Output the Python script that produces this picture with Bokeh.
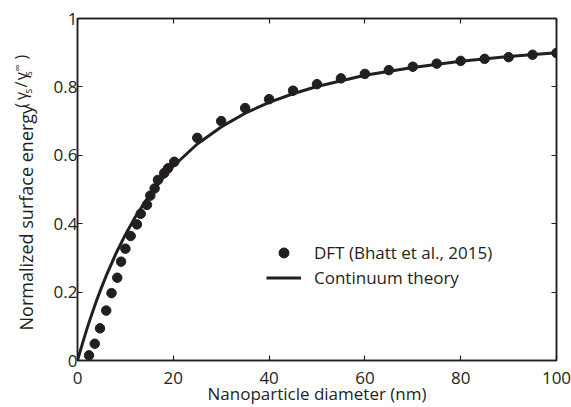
import numpy as np
from bokeh.plotting import figure
from bokeh.layouts import row
from bokeh.models import Range1d, LinearAxis, FixedTicker, Label, Legend, LegendItem
from bokeh.embed import file_html
from bokeh.resources import INLINE

# ---- data ----
dft_x = [2.4, 3.6, 4.7, 6.0, 7.1, 8.3, 9.1, 10.0, 11.1, 12.4, 13.2, 14.5, 15.2, 16.1,
         16.8, 18.1, 18.9, 20.2, 25, 30, 35, 40, 45, 50, 55, 60, 65, 70, 75, 80, 85,
         90, 95, 100]
dft_y = [0.015, 0.049, 0.094, 0.146, 0.197, 0.242, 0.289, 0.327, 0.364, 0.398, 0.429,
         0.455, 0.482, 0.503, 0.528, 0.548, 0.562, 0.581, 0.651, 0.700, 0.738, 0.764,
         0.789, 0.808, 0.825, 0.838, 0.849, 0.859, 0.868, 0.876, 0.882, 0.887, 0.894,
         0.899]

theory_x = [0, 1, 2, 3, 4, 5, 6, 8, 10, 12, 14, 16, 18, 20, 25, 30, 35, 40, 45, 50,
            60, 70, 80, 90, 100]
theory_y = [0.0, 0.048, 0.094, 0.136, 0.176, 0.213, 0.248, 0.312, 0.368, 0.418, 0.462,
            0.501, 0.536, 0.568, 0.633, 0.683, 0.723, 0.755, 0.780, 0.801, 0.834, 0.857,
            0.875, 0.889, 0.900]

x_ticks = [0, 20, 40, 60, 80, 100]
y_ticks = [0, 0.2, 0.4, 0.6, 0.8, 1]
y_tick_labels = ["0", "0.2", "0.4", "0.6", "0.8", "1"]

series_names = ["DFT (Bhatt et al., 2015)", "Continuum theory"]
x_title = "Nanoparticle diameter (nm)"
y_title = "Normalized surface energy"

FONT = "Open Sans"
INK = "#231f20"

# ---------------- main plot ----------------
p = figure(width=531, height=407, x_range=Range1d(0, 100), y_range=Range1d(0, 1),
           output_backend="svg", toolbar_location=None,
           min_border_left=37, min_border_right=15, min_border_top=18, min_border_bottom=46)
p.xgrid.visible = False
p.ygrid.visible = False
p.outline_line_color = INK
p.outline_line_width = 1.5
p.background_fill_color = "white"
p.border_fill_color = "white"

def style_axis(ax, ticks, show_labels=True):
    ax.ticker = FixedTicker(ticks=ticks)
    ax.minor_tick_line_color = None
    ax.major_tick_in = 5
    ax.major_tick_out = 0
    ax.major_tick_line_color = INK
    ax.major_tick_line_width = 1.2
    ax.axis_line_color = INK
    ax.axis_line_width = 1.5
    ax.major_label_text_font = FONT
    ax.major_label_text_color = INK
    if show_labels:
        ax.major_label_text_font_size = "17px"
    else:
        ax.major_label_text_font_size = "1px"
        ax.major_label_text_color = None
        ax.major_label_standoff = 0

style_axis(p.xaxis[0], x_ticks)
style_axis(p.yaxis[0], y_ticks)
p.xaxis[0].major_label_standoff = 11
p.yaxis[0].major_label_standoff = 0
p.yaxis[0].major_label_overrides = {t: s for t, s in zip(y_ticks, y_tick_labels)}
p.yaxis[0].axis_label = None
p.xaxis[0].axis_label = x_title
p.xaxis[0].axis_label_text_font = FONT
p.xaxis[0].axis_label_text_font_size = "17px"
p.xaxis[0].axis_label_text_font_style = "normal"
p.xaxis[0].axis_label_text_color = INK
p.xaxis[0].axis_label_standoff = -5

top = LinearAxis()
style_axis(top, x_ticks, show_labels=False)
p.add_layout(top, "above")
right = LinearAxis()
style_axis(right, y_ticks, show_labels=False)
p.add_layout(right, "right")

r_line = p.line(theory_x, theory_y, line_color=INK, line_width=3)
r_pts = p.scatter(dft_x, dft_y, size=9.5, fill_color=INK, line_color=INK)

legend = Legend(items=[LegendItem(label=series_names[0], renderers=[r_pts]),
                       LegendItem(label=series_names[1], renderers=[r_line])],
                location=(189, 70), padding=0, margin=0, spacing=0,
                glyph_width=35, glyph_height=25, label_height=25, label_standoff=13,
                border_line_color=None, background_fill_alpha=0,
                label_text_font=FONT, label_text_font_size="17px", label_text_color=INK)
p.add_layout(legend)

# ---------------- y-axis title strip (page pixel coordinates) ----------------
H = 407
t = figure(width=40, height=H, x_range=Range1d(0, 40), y_range=Range1d(0, H),
           output_backend="svg", toolbar_location=None, min_border=0,
           x_axis_location=None, y_axis_location=None)
t.xgrid.visible = False
t.ygrid.visible = False
t.outline_line_color = None
t.background_fill_color = "white"
t.border_fill_color = "white"

SHIFT = -8
def ylab(text, x, page_y, size="17px"):
    t.add_layout(Label(x=x + SHIFT, y=H - page_y, text=text, angle=np.pi / 2,
                       text_font=FONT, text_font_size=size, text_color=INK,
                       text_align="center", text_baseline="alphabetic"))

ylab(y_title, 33, 237, size="18px")
ylab("(", 28, 103.5, size="16px")
ylab("\u03b3", 28, 92, size="16px")
ylab("s", 35, 86.5, size="10px")
ylab("/", 28, 78.5, size="16px")
ylab("\u03b3", 28, 68.5, size="16px")
ylab("s", 35, 65.5, size="10px")
ylab("\u221e", 24, 58.5, size="10px")
ylab(")", 28, 46, size="16px")

open("out.html", "w").write(file_html(row(t, p), INLINE))
